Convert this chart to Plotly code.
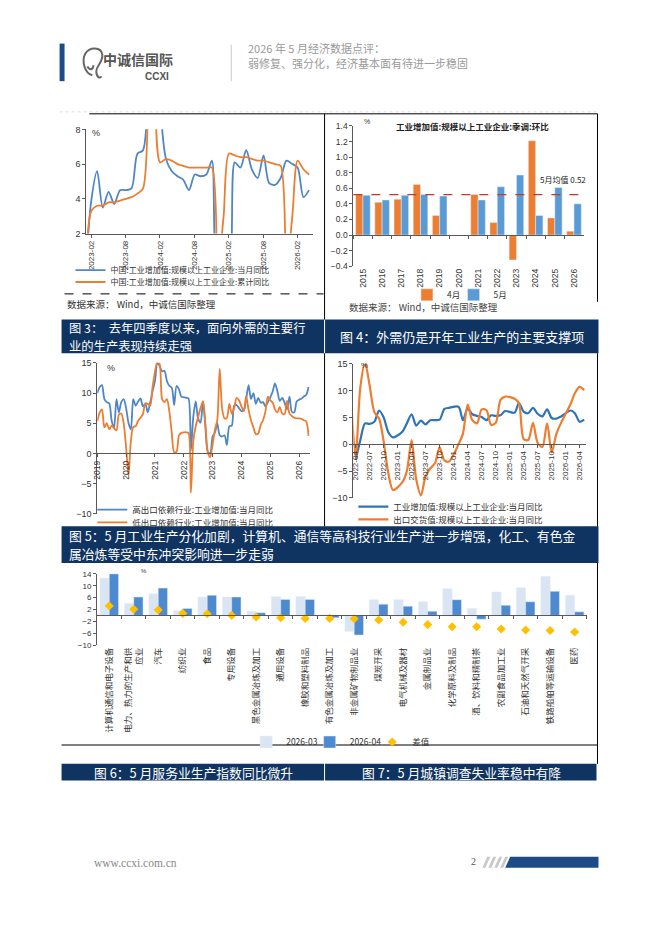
import pandas as pd
import plotly.graph_objects as go

W, H = 662, 936


def fx(px):
    return px / W


def fy(py):
    return 1 - py / H


def svg(cmds):
    # cmds: list of (letter, [(px, py), ...]) in page pixels -> paper path
    out = []
    for c, pts in cmds:
        out.append(c + " " + " ".join(f"{fx(a):.5f},{fy(b):.5f}" for a, b in pts))
    return " ".join(out)


NAVY = "#0f3462"
LOGO_BLUE = "#1c4b87"
AX = "#595959"
TXT = "#333333"
BLUE = "#4f86c6"
BLUE_D = "#2e75b6"
ORANGE = "#ed7d31"
FONT = "Liberation Sans, Noto Sans CJK SC, sans-serif"
CJK = "Noto Sans CJK SC, sans-serif"

# ---------------- chart A: 工业增加值 当月同比 / 累计同比 ----------------
a_months = pd.date_range("2023-02-01", "2026-05-01", freq="MS")
a_mom = [0, 3.9, 5.6, 3.5, 4.4, 3.7, 4.5, 4.5, 4.6, 6.6, 6.8,
         25, 20, 9.5, 6.3, 5.6, 5.3, 5.1, 4.5, 5.4, 5.3, 5.4, 6.2,
         0, 0, 0, 6.1, 5.8, 6.8, 5.7, 5.2, 6.5, 4.9, 4.8, 5.2,
         6.2, 6.0, 5.8, 4.1, 4.5]
a_ytd = [0, 3.3, 3.6, 3.6, 3.8, 3.8, 3.9, 4.0, 4.1, 4.3, 4.6,
         24, 11, 6.1, 6.3, 6.2, 6.0, 5.9, 5.8, 5.8, 5.8, 5.8, 5.8,
         0, 3.0, 6.6, 6.5, 6.4, 6.4, 6.3, 6.2, 6.2, 6.1, 6.0, 5.9,
         0, 3.0, 6.2, 5.7, 5.4]
a_names = ["中国:工业增加值:规模以上工业企业:当月同比",
           "中国:工业增加值:规模以上工业企业:累计同比"]

# ---------------- chart B: 季调环比 4月 / 5月 ----------------
b_years = [str(y) for y in range(2015, 2027)]
b_apr = [0.52, 0.42, 0.46, 0.65, 0.25, None, 0.52, 0.16, -0.32, 1.21, 0.22, 0.05]
b_may = [0.51, 0.45, 0.51, 0.52, 0.50, None, 0.45, 0.62, 0.77, 0.25, 0.61, 0.40]
MAY_AVG = 0.52

# ---------------- chart C: 高/低出口依赖行业 ----------------
c_months = pd.date_range("2019-01-01", "2026-05-01", freq="MS")
c_high = [10.0, 11.0, 11.3, 9.0, 8.5, 8.3, 5.5, 4.2, 9.0, 6.8, 8.5, 9.0,
          7.5, 5.0, 4.0, 9.0, 7.9, 8.6, 9.1, 7.8, 8.2, 6.8, 8.4, 10.3,
          12.0, 15.0, 14.5, 13.6, 13.7, 12.0, 11.2, 10.9, 8.0, 11.2, 10.6, 9.4,
          9.3, 9.2, 9.1, 0.5, 6.0, 8.6, 5.8, 5.1, 8.6, 4.5, 0.3, 0.0,
          2.8, 3.5, 5.0, 3.0, 2.8, 3.0, 1.4, 4.5, 4.6, 7.9, 8.0, 7.5,
          7.0, 7.2, 9.0, 11.3, 9.0, 10.0, 8.2, 9.2, 8.4, 8.5, 7.8, 8.5,
          9.3, 10.3, 11.6, 10.3, 8.7, 9.2, 8.4, 7.3, 9.4, 6.9, 6.8, 8.6,
          8.9, 9.1, 9.4, 9.7, 11.0]
c_low = [5.3, 6.8, 7.3, 4.3, 5.0, 4.0, 4.6, 4.2, 3.8, 6.4, 6.6, 5.0,
         1.0, -3.6, 2.0, 4.4, 4.5, 5.4, 5.9, 6.5, 8.3, 8.2, 7.9, 11.0,
         13.5, 15.2, 14.8, 9.0, 8.5, 9.0, 7.0, 3.5, 0.2, 0.3, 3.0, 3.4,
         3.5, 3.5, 3.4, -6.5, 2.0, 4.5, 6.0, 7.5, 8.6, 5.0, 0.2, -0.6,
         1.5, 4.0, 5.5, 14.0, 7.5, 5.8, 5.9, 8.2, 6.6, 7.5, 9.2, 8.8,
         7.8, 7.0, 9.5, 7.2, 5.5, 4.3, 3.2, 3.3, 4.7, 5.5, 7.0, 9.4,
         8.8, 8.4, 7.3, 6.8, 7.7, 6.6, 6.5, 8.7, 6.6, 6.2, 5.9, 5.8,
         5.8, 5.7, 5.5, 5.3, 2.9]
c_names = ["高出口依赖行业:工业增加值:当月同比", "低出口依赖行业:工业增加值:当月同比"]

# ---------------- chart D: 工业增加值 vs 出口交货值 ----------------
d_months = pd.date_range("2022-03-01", "2026-05-01", freq="MS")
d_ind = [None, -2.9, 0.7, 3.9, 3.8, 4.2, 6.3, 5.0, 2.2, 1.3,
         None, 2.4, 3.9, 5.6, 3.5, 4.4, 3.7, 4.5, 4.5, 4.6, 6.6, 6.8,
         None, 7.0, 4.5, 6.7, 5.6, 5.3, 5.1, 4.5, 5.4, 5.3, 5.4, 6.2,
         None, 5.9, 7.7, 6.1, 5.8, 6.8, 5.7, 5.2, 6.5, 4.9, 4.8, 5.2,
         None, 6.3, 5.8, 4.2, 4.6]
d_exp = [9.0, -2.5, 10.5, 15.2, 11.0, 6.0, 4.8, 0.5, -5.5, -8.5,
         None, -7.0, -5.0, 0.8, -6.5, -9.5, -6.0, -4.5, -3.5, -0.5, -3.0, -3.2,
         None, 0.0, 2.0, 7.4, 4.5, 3.9, 6.5, 6.4, 3.6, 4.0, 8.3, 8.9,
         None, 8.5, 7.7, 1.0, 0.8, 4.0, 0.3, -0.5, 3.9, -1.5, 2.0, 4.0,
         None, 7.5, 9.5, 10.7, 10.1]
d_names = ["工业增加值:规模以上工业企业:当月同比", "出口交货值:规模以上工业企业:当月同比"]

# ---------------- chart E: 分行业 ----------------
e_cats = ["计算机通信和电子设备", "电力、热力的生产和供<br>应业", "汽车", "纺织业", "食品",
          "专用设备", "黑色金属冶炼及加工", "通用设备", "橡胶和塑料制品", "有色金属冶炼及加工",
          "非金属矿物制品业", "煤炭开采", "电气机械及器材", "金属制品业", "化学原料及制品",
          "酒、饮料和精制茶", "农副食品加工业", "石油和天然气开采", "铁路船舶等运输设备", "医药"]
e_mar = [12.6, 4.0, 7.3, 1.6, 6.2, 6.2, 1.4, 6.3, 6.4, 0.2,
         -5.4, 5.3, 5.3, 4.6, 9.0, 2.3, 7.9, 9.3, 13.2, 6.8]
e_apr = [14.0, 6.2, 9.2, 2.3, 6.8, 6.2, 0.9, 5.4, 5.4, -0.8,
         -6.6, 3.8, 3.1, 1.4, 5.3, -1.3, 3.4, 4.6, 8.1, 1.2]
e_diff = [3.2, 2.1, 1.8, 0.7, 0.55, 0.0, -0.55, -0.8, -1.0, -1.0,
          -1.1, -1.55, -2.3, -3.1, -3.8, -3.8, -4.6, -4.9, -5.1, -5.6]

fig = go.Figure()

line_kw = dict(mode="lines", line_shape="spline", line_smoothing=0.8)

fig.add_trace(go.Scatter(x=a_months, y=a_mom, name=a_names[0], xaxis="x", yaxis="y",
                         line=dict(color=BLUE, width=1.8), legend="legend", **line_kw))
fig.add_trace(go.Scatter(x=a_months, y=a_ytd, name=a_names[1], xaxis="x", yaxis="y",
                         line=dict(color=ORANGE, width=1.8), legend="legend2", **line_kw))

fig.add_trace(go.Bar(x=b_years, y=b_apr, name="4月", marker_color=ORANGE,
                     xaxis="x2", yaxis="y2", legend="legend3"))
fig.add_trace(go.Bar(x=b_years, y=b_may, name="5月", marker_color="#5b9bd5",
                     xaxis="x2", yaxis="y2", legend="legend9"))
fig.add_trace(go.Scatter(x=b_years, y=b_may, mode="markers", marker=dict(opacity=0),
                         xaxis="x3", yaxis="y2", showlegend=False, hoverinfo="skip"))

fig.add_trace(go.Scatter(x=c_months, y=c_high, name=c_names[0], xaxis="x4", yaxis="y4",
                         line=dict(color=BLUE, width=1.8), legend="legend4", **line_kw))
fig.add_trace(go.Scatter(x=c_months, y=c_low, name=c_names[1], xaxis="x4", yaxis="y4",
                         line=dict(color=ORANGE, width=1.8), legend="legend5", **line_kw))

fig.add_trace(go.Scatter(x=d_months, y=d_ind, name=d_names[0], xaxis="x5", yaxis="y5",
                         connectgaps=True, line=dict(color=BLUE_D, width=2.2),
                         legend="legend6", **line_kw))
fig.add_trace(go.Scatter(x=d_months, y=d_exp, name=d_names[1], xaxis="x5", yaxis="y5",
                         connectgaps=True, line=dict(color=ORANGE, width=2.2),
                         legend="legend7", **line_kw))

fig.add_trace(go.Bar(x=e_cats, y=e_mar, name="2026-03", marker_color="#dae5f3",
                     xaxis="x6", yaxis="y6", legend="legend8"))
fig.add_trace(go.Bar(x=e_cats, y=e_apr, name="2026-04", marker_color="#4d8ad0",
                     xaxis="x6", yaxis="y6", legend="legend10"))
fig.add_trace(go.Scatter(x=e_cats, y=e_diff, name="差值", mode="markers",
                         marker=dict(symbol="diamond", size=7, color="#ffc000"),
                         xaxis="x6", yaxis="y6", legend="legend11"))
fig.add_trace(go.Scatter(x=e_cats, y=e_diff, mode="markers", marker=dict(opacity=0),
                         xaxis="x7", yaxis="y6", showlegend=False, hoverinfo="skip"))

axis_base = dict(showgrid=False, zeroline=False, showline=True, linecolor=AX, linewidth=1,
                 ticks="outside", ticklen=3, tickcolor=AX, tickfont=dict(size=9, color=TXT))


def ax(**kw):
    d = dict(axis_base)
    d.update(kw)
    return d


date_font = dict(size=8, color=TXT)

layout = dict(
    width=W, height=H, margin=dict(l=0, r=0, t=0, b=0),
    paper_bgcolor="white", plot_bgcolor="rgba(0,0,0,0)",
    font=dict(family=FONT, size=9, color=TXT),
    barmode="group", bargap=0.24, bargroupgap=0,
    hovermode=False,
    # chart A
    xaxis=ax(domain=[fx(82), fx(310)], range=["2023-02-03", "2026-05-20"], type="date",
             tick0="2023-02-28", dtick="M6", tickformat="%Y-%m", tickangle=-90,
             tickfont=date_font, anchor="y"),
    yaxis=ax(domain=[fy(231), fy(125.7)], range=[2, 8], dtick=2, anchor="x"),
    # chart B
    xaxis2=ax(domain=[fx(351), fx(583)], type="category", range=[-0.5, 11.5], anchor="y2",
              showline=False, ticks="", tickangle=-90, tickfont=dict(size=8.5, color=TXT)),
    yaxis2=ax(domain=[fy(264), fy(122.3)], range=[-0.4, 1.4], dtick=0.2, tickformat=".1f",
              anchor="x2", tickfont=dict(size=8.5, color=TXT)),
    xaxis3=ax(type="category", range=[-0.5, 11.5], overlaying="x2", anchor="free",
              position=fy(232.5), tickson="boundaries", showticklabels=False),
    # chart C
    xaxis4=ax(domain=[fx(93), fx(307)], range=["2019-01-01", "2026-05-15"], type="date",
              anchor="free", position=fy(453.3), tick0="2019-01-01", dtick="M12",
              tickformat="%Y", tickangle=-90, tickfont=dict(size=8.5, color=TXT)),
    yaxis4=ax(domain=[fy(514.3), fy(361.7)], range=[-10, 15], dtick=5, anchor="x4"),
    # chart D
    xaxis5=ax(domain=[fx(351), fx(585)], range=["2022-03-17", "2026-05-10"], type="date",
              anchor="free", position=fy(443.7), tick0="2022-04-01", dtick="M3",
              tickformat="%Y-%m", tickangle=-90, tickfont=date_font),
    yaxis5=ax(domain=[fy(498.3), fy(362.7)], range=[-10, 15], dtick=5, anchor="x5"),
    # chart E
    xaxis6=ax(domain=[fx(92.7), fx(586.3)], type="category", range=[-0.5, 19.5], anchor="y6",
              showline=False, ticks="", tickangle=-90,
              tickfont=dict(size=8.5, color=TXT, family=CJK)),
    yaxis6=ax(domain=[fy(647), fy(575)], range=[-10, 14], tick0=2, dtick=4, anchor="x6",
              tickfont=dict(size=8, color=TXT)),
    xaxis7=ax(type="category", range=[-0.5, 19.5], overlaying="x6", anchor="free",
              position=fy(617), tickson="boundaries", showticklabels=False),
)


def leg(x, y, size=8, orient="v"):
    return dict(x=fx(x), y=fy(y), xanchor="left", yanchor="middle", orientation=orient,
                bgcolor="rgba(0,0,0,0)", font=dict(size=size, color=TXT, family=CJK),
                itemwidth=30, tracegroupgap=0)


layout["legend"] = leg(66, 268)
layout["legend2"] = leg(66, 280)
layout["legend3"] = leg(405, 293, 8.5, "h")
layout["legend9"] = leg(452, 293, 8.5, "h")
layout["legend4"] = leg(88, 510, 8.5)
layout["legend5"] = leg(88, 523, 8.5)
layout["legend6"] = leg(351, 507, 8.5)
layout["legend7"] = leg(351, 520, 8.5)
layout["legend8"] = leg(243, 745, 8.5, "h")
layout["legend10"] = leg(307, 745, 8.5, "h")
layout["legend11"] = leg(370, 745, 8.5, "h")

fig.update_layout(**layout)

# ---------------- shapes ----------------
shapes = []


def rect(x0, y0, x1, y1, color):
    shapes.append(dict(type="rect", xref="paper", yref="paper", x0=fx(x0), x1=fx(x1),
                       y0=fy(y1), y1=fy(y0), fillcolor=color, line=dict(width=0),
                       layer="below"))


def hline(x0, x1, y, color="#000", width=1, dash="solid"):
    shapes.append(dict(type="line", xref="paper", yref="paper", x0=fx(x0), x1=fx(x1),
                       y0=fy(y), y1=fy(y), line=dict(color=color, width=width, dash=dash)))


def vline(x, y0, y1, color="#000", width=1):
    shapes.append(dict(type="line", xref="paper", yref="paper", x0=fx(x), x1=fx(x),
                       y0=fy(y0), y1=fy(y1), line=dict(color=color, width=width)))


# header
rect(55, 39, 60, 77, LOGO_BLUE)
vline(228, 40, 77, "#cccccc")
hline(55, 598, 108, "#dddddd", 1, "dot")
shapes.append(dict(type="path", xref="paper", yref="paper", line=dict(color="#666666", width=2),
                   path=svg([("M", [(88, 71)]),
                             ("C", [(80, 69), (77, 56), (81, 49)]),
                             ("C", [(85, 42), (97, 42), (98, 50)]),
                             ("C", [(99, 58), (92, 61), (92, 67)]),
                             ("C", [(92, 73), (96, 75), (97, 72)]),
                             ("M", [(83, 62)]),
                             ("C", [(85, 66), (89, 66), (89, 61)])])))

# chart frames
hline(85, 597, 110)
vline(322, 110, 318)
vline(597, 110, 300)
hline(60, 321, 292, "#000", 1, "dash")
vline(322, 352, 527)
vline(597, 352, 527)
vline(597, 564, 767)
hline(57, 597, 748)

# title bars
rect(57, 318, 321.5, 352, NAVY)
rect(322.5, 318, 598, 352, NAVY)
rect(57, 527, 598, 564, NAVY)
rect(57, 767, 321.5, 784, NAVY)
rect(322.5, 767, 596, 784, NAVY)

# 5月均值 line
shapes.append(dict(type="line", xref="x2 domain", yref="y2", x0=0, x1=1, y0=MAY_AVG, y1=MAY_AVG,
                   line=dict(color="#c0392b", width=1.2, dash="dash")))

# footer
for i in range(4):
    x0 = 481 + i * 6
    shapes.append(dict(type="path", xref="paper", yref="paper", fillcolor="#c8c8c8",
                       line=dict(width=0),
                       path=svg([("M", [(x0, 872)]), ("L", [(x0 + 5, 861)]),
                                 ("L", [(x0 + 8, 861)]), ("L", [(x0 + 3, 872)])]) + " Z"))
shapes.append(dict(type="path", xref="paper", yref="paper", fillcolor=LOGO_BLUE,
                   line=dict(width=0),
                   path=svg([("M", [(504, 872)]), ("L", [(509, 861)]), ("L", [(598, 861)]),
                             ("L", [(598, 872)])]) + " Z"))

fig.update_layout(shapes=shapes)

# ---------------- annotations ----------------
ann = []


def text(x, y, s, size=9, color=TXT, anchor="left", family=CJK, yanchor="middle"):
    ann.append(dict(x=fx(x), y=fy(y), xref="paper", yref="paper", text=s, showarrow=False,
                    xanchor=anchor, yanchor=yanchor,
                    font=dict(size=size, color=color, family=family)))


text(97, 55, "<b>中诚信国际</b>", 14, "#555555")
text(167, 72, "<b>CCXI</b>", 10, "#555555", "right", "Liberation Sans")
text(243, 43, "2026 年 5 月经济数据点评：", 11, "#9a9a9a")
text(243, 59, "弱修复、强分化，经济基本面有待进一步稳固", 11, "#9a9a9a")

text(86, 129, "%", 9, TXT, family=FONT)
text(360, 118, "%", 7, TXT, family=FONT)
text(471, 122, "<b>工业增加值:规模以上工业企业:季调:环比</b>", 8.5, "#222222", "center")
text(562, 176, "5月均值 0.52", 8, "#222222", "center")
text(60, 302, "数据来源： Wind，中诚信国际整理", 9.5)
text(345, 305, "数据来源： Wind，中诚信国际整理", 9.5, "#444444")
text(101, 367, "%", 9, TXT, family=FONT)
text(357, 364, "%", 8, TXT, family=FONT)
text(135, 572, "%", 6, TXT, family=FONT)

text(62, 326.5, "图 3：  去年四季度以来，面向外需的主要行", 12.3, "white")
text(62, 344.5, "业的生产表现持续走强", 12.3, "white")
text(336, 335, "图 4：外需仍是开年工业生产的主要支撑项", 13, "white")
text(62, 536.5, "图 5：5 月工业生产分化加剧，计算机、通信等高科技行业生产进一步增强，化工、有色金", 12.8, "white")
text(62, 554.5, "属冶炼等受中东冲突影响进一步走弱", 12.8, "white")
text(88, 775.5, "图 6：5 月服务业生产指数同比微升", 12.8, "white")
text(358, 775.5, "图 7：5 月城镇调查失业率稳中有降", 12.8, "white")

text(88, 867, "www.ccxi.com.cn", 11.5, "#888888", family="Liberation Serif")
text(472, 866, "2", 10, "#555555", "center", "Liberation Serif")

fig.update_layout(annotations=ann)

fig.write_html("out.html", config={"displayModeBar": False},
               post_script="document.body.style.margin='0';document.body.style.padding='0';")
